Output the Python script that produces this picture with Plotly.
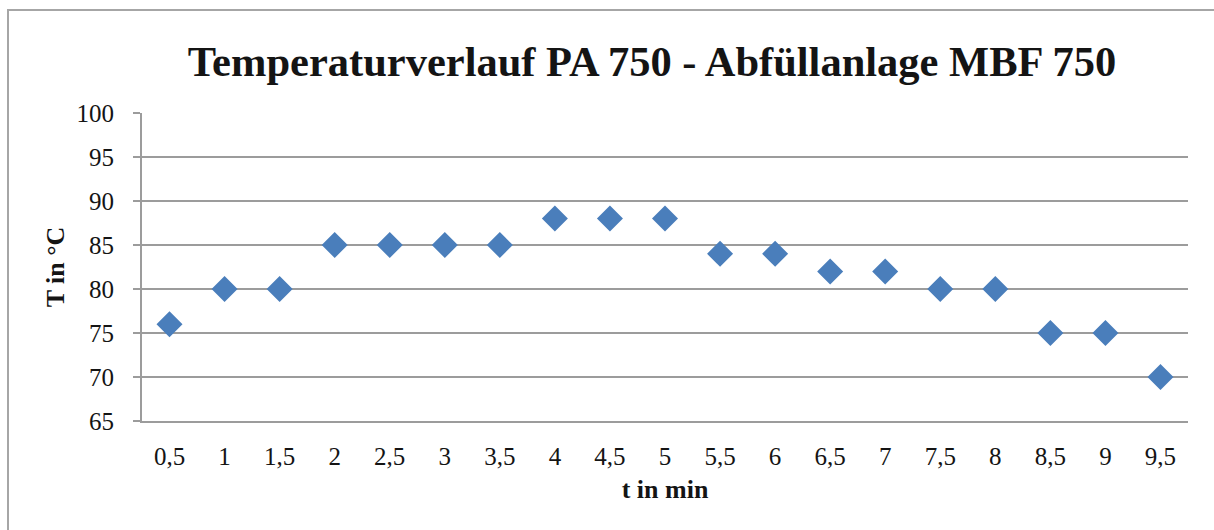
import plotly.graph_objects as go

zeit_labels = ["0,5", "1", "1,5", "2", "2,5", "3", "3,5", "4", "4,5", "5",
               "5,5", "6", "6,5", "7", "7,5", "8", "8,5", "9", "9,5"]
temperatur = [76, 80, 80, 85, 85, 85, 85, 88, 88, 88,
              84, 84, 82, 82, 80, 80, 75, 75, 70]
y_ticks = [65, 70, 75, 80, 85, 90, 95, 100]

W, H = 1214, 530
L, R, T, B = 142, 26, 113, 109
pw, ph = W - L - R, H - T - B

serif = "Liberation Serif, Times New Roman, serif"
grid = "#9c9c9c"
ink = "#141414"

fig = go.Figure()
fig.add_trace(go.Scatter(
    x=zeit_labels, y=temperatur, mode="markers",
    marker=dict(symbol="diamond", size=20, color="#4A7EBB", line=dict(width=0)),
    showlegend=False, cliponaxis=False,
))

def px_x(p):
    return (p - L) / pw

def px_y(p):
    return (H - B - p) / ph

fig.add_shape(type="rect", xref="paper", yref="paper",
              x0=px_x(8), x1=px_x(1230), y0=px_y(545), y1=px_y(10),
              line=dict(color="#a6a6a6", width=2), fillcolor="rgba(0,0,0,0)",
              layer="below")

fig.update_layout(
    width=W, height=H,
    margin=dict(l=L, r=R, t=T, b=B),
    paper_bgcolor="white", plot_bgcolor="white",
    font=dict(family=serif, color=ink),
    title=dict(text="<b>Temperaturverlauf PA 750 - Abfüllanlage MBF 750</b>",
               font=dict(family=serif, size=42.5, color=ink),
               x=652 / W, xanchor="center", y=1 - 61 / H, yanchor="middle"),
    xaxis=dict(type="category", range=[-0.5, 18.5], showgrid=False,
               showline=True, linecolor=grid, linewidth=2,
               ticks="outside", ticklen=12, tickcolor="rgba(0,0,0,0)",
               tickfont=dict(family=serif, size=25, color=ink),
               title=dict(text="<b>t in min</b>", standoff=11,
                          font=dict(family=serif, size=26, color=ink))),
    yaxis=dict(range=[65, 100], tickvals=y_ticks, showgrid=True,
               gridcolor=grid, gridwidth=2, zeroline=False,
               showline=True, linecolor=grid, linewidth=2,
               ticks="outside", ticklen=7, tickcolor=grid, tickwidth=2,
               ticklabelstandoff=14,
               tickfont=dict(family=serif, size=25, color=ink),
               title=dict(text="<b>T in °C</b>", standoff=4,
                          font=dict(family=serif, size=26, color=ink))),
)

fig.write_html("out.html")
